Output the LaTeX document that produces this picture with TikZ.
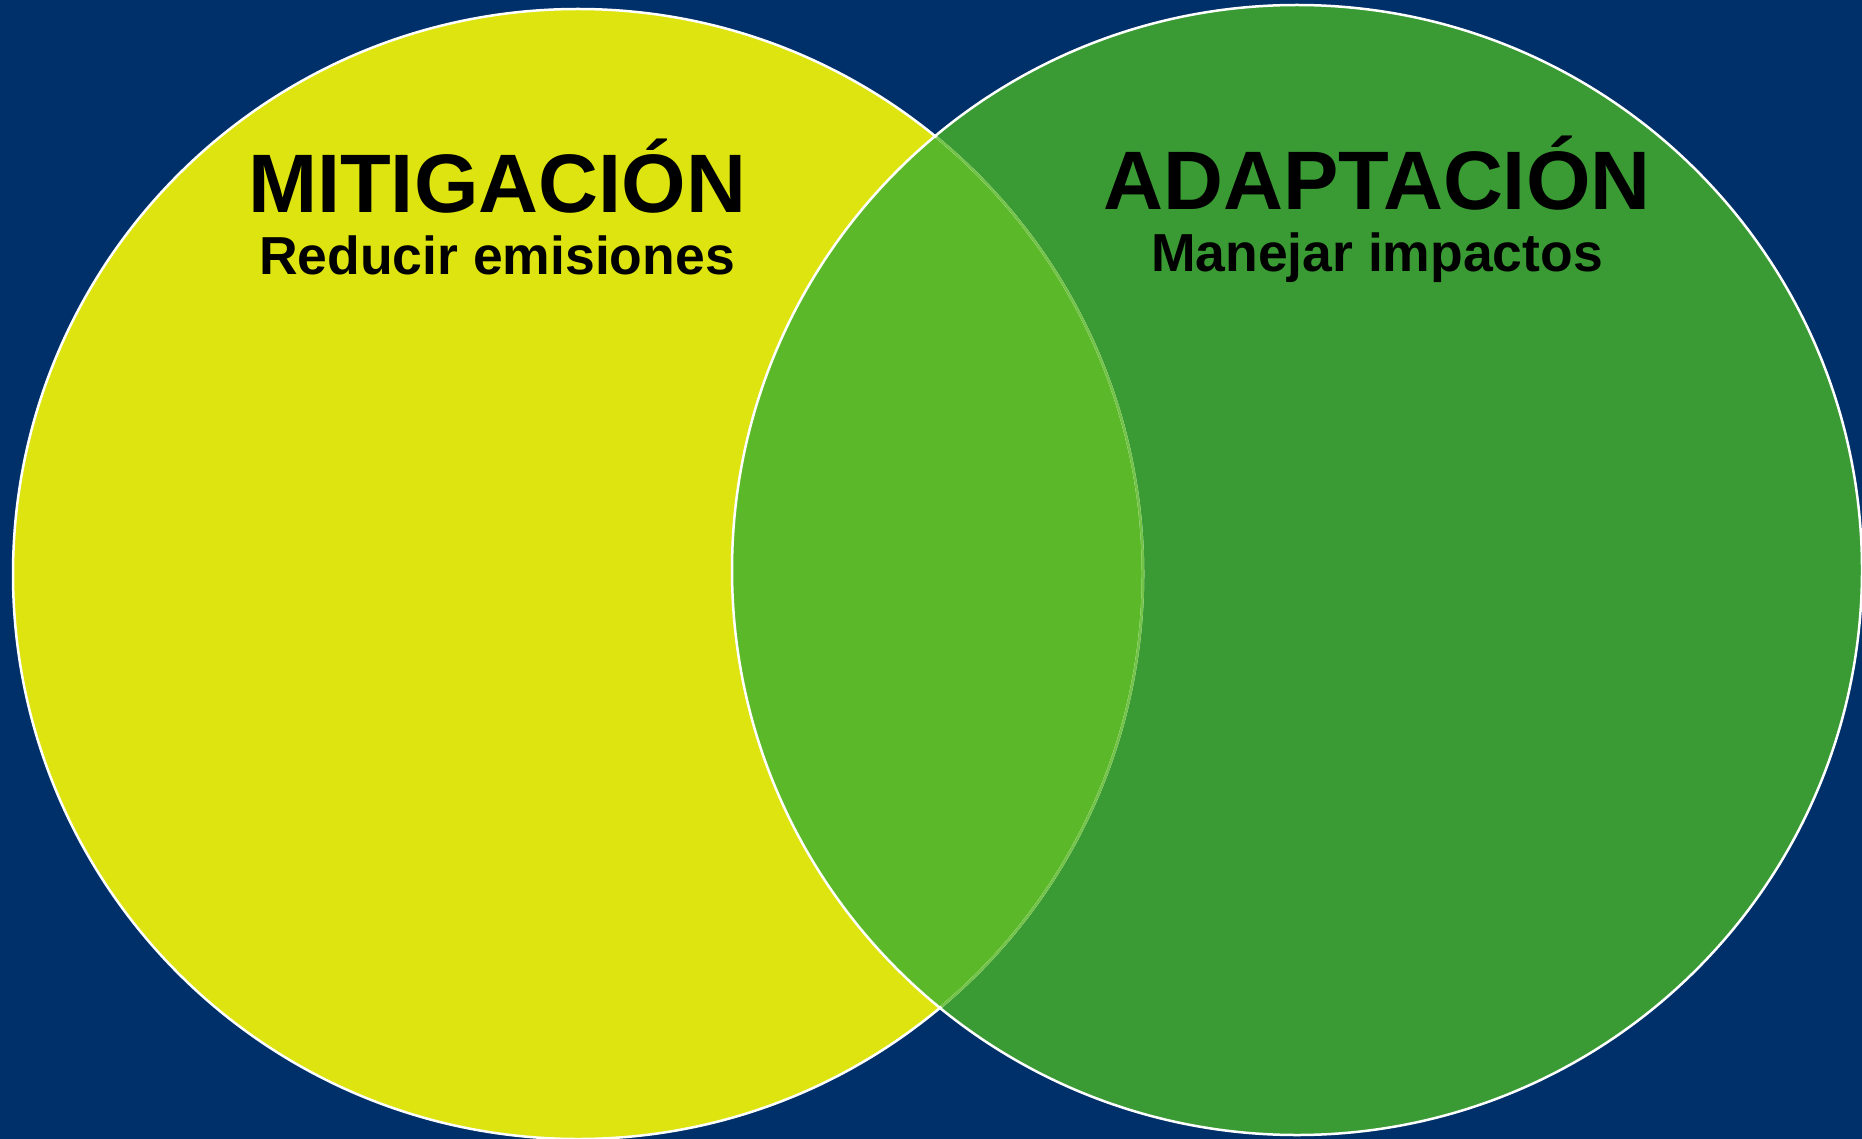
\documentclass[tikz,border=0pt]{standalone}
\usepackage{fontspec}
\setmainfont{Liberation Sans}
\usepackage{xcolor}
\usetikzlibrary{positioning}
\definecolor{navybg}{HTML}{003069}
\definecolor{mityellow}{HTML}{DEE40F}
\definecolor{adagreen}{HTML}{3A9B34}
\definecolor{overlapgreen}{HTML}{5BB829}

\begin{document}
\begin{tikzpicture}[x=1pt, y=-1pt, every node/.style={inner sep=0pt, text=black},
  titletxt/.style={font=\fontsize{83}{90}\selectfont\bfseries, anchor=base},
  subtxt/.style={font=\fontsize{53.5}{60}\selectfont\bfseries},
  rim/.style={draw=white, line width=2.5pt}]
\fill[navybg] (0,0) rectangle (1862,1139);
\useasboundingbox (0,0) rectangle (1862,1139);
\coordinate (cmit) at (578,574);
\coordinate (cada) at (1297,570);
% the two sets
\fill[mityellow] (cmit) circle[radius=565pt];
\fill[adagreen] (cada) circle[radius=565pt];
\begin{scope}
  \clip (cmit) circle[radius=565pt];
  \fill[overlapgreen] (cada) circle[radius=565pt];
\end{scope}
\draw[rim] (cmit) circle[radius=565pt];
\draw[rim] (cada) circle[radius=565pt];
\begin{scope}
  \clip (cada) circle[radius=563pt];
  \draw[draw=overlapgreen!85!white, line width=2.5pt] (cmit) circle[radius=565pt];
\end{scope}
% labels
\node[titletxt] (mit) at (497,213) {MITIGACIÓN};
\node[subtxt, below=22pt of mit] (mitsub) {Reducir emisiones};
\node[titletxt] (ada) at (1377,210) {ADAPTACIÓN};
\node[subtxt, below=22pt of ada] (adasub) {Manejar impactos};
\end{tikzpicture}
\end{document}
